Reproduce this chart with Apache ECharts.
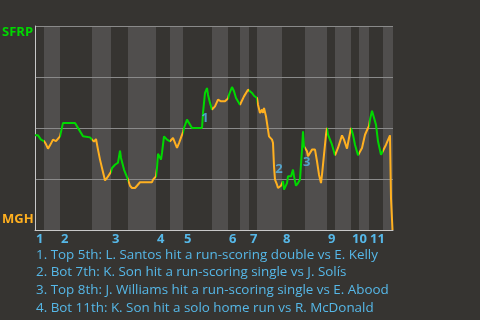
<!DOCTYPE html>
<html>
<head>
<meta charset="utf-8">
<style>
html,body{margin:0;padding:0;background:#363431;}
#chart{width:480px;height:320px;}
</style>
<script src="https://cdn.jsdelivr.net/npm/echarts@6/dist/echarts.min.js"></script>
</head>
<body>
<div id="chart"></div>
<script>
// Half-inning start positions (pitch index), top/bottom alternating
const halfInningStarts = [0, 9, 25, 57, 76, 93, 121, 135, 148, 177, 193, 205, 214, 222, 247, 270, 292, 300, 316, 324, 334, 348];
const lastPitch = 358;
const inningLabels = ['1','2','3','4','5','6','7','8','9','10','11'];

// Win probability (SFRP) by pitch
const wpPitch = [
  0,3,4,6,9,
  11,13,15,18,21,25,
  28,40,42,44,46,48,55,57,
  59,61,63,65,67,69,70,72,76,
  77,80,83,85,86,89,93,
  95,97,100,102,105,117,118,121,
  122,123,126,127,129,132,135,
  137,138,142,144,148,
  149,152,154,157,167,168,170,172,173,175,177,
  180,183,186,190,193,
  194,197,199,201,205,
  206,209,213,214,
  217,219,222,
  223,225,227,228,229,231,233,234,237,238,239,240,242,243,246,247,
  248,249,251,252,253,256,258,259,261,263,265,267,268,269,270,
  272,273,277,280,282,284,286,287,289,291,292,
  293,297,300,
  303,307,309,312,314,316,
  318,320,323,324,
  327,330,333,334,
  335,337,339,341,343,346,348,
  351,355,356,357,357.5
];
const wpValue = [
  0.464,0.464,0.456,0.443,0.436,
  0.42,0.399,0.415,0.443,0.436,0.459,
  0.525,0.525,0.508,0.492,0.487,0.459,0.454,0.443,
  0.433,0.446,0.394,0.345,0.304,0.263,0.243,0.255,0.285,
  0.304,0.32,0.33,0.389,0.353,0.296,0.247,
  0.217,0.206,0.206,0.217,0.234,0.234,0.247,0.263,
  0.304,0.374,0.345,0.378,0.459,0.443,0.435,
  0.43,0.451,0.402,0.426,0.48,
  0.5,0.541,0.538,0.5,0.5,0.574,0.672,0.696,0.663,0.623,0.59,
  0.606,0.639,0.631,0.631,0.645,
  0.663,0.701,0.68,0.647,0.614,
  0.623,0.655,0.688,0.696,
  0.672,0.658,0.647,
  0.614,0.574,0.59,0.574,0.598,0.557,0.492,0.459,0.443,0.426,0.312,0.247,0.222,0.206,0.217,0.225,
  0.24,0.198,0.198,0.23,0.263,0.263,0.296,0.263,0.217,0.23,0.247,0.394,0.484,0.41,0.418,
  0.386,0.361,0.394,0.394,0.337,0.271,0.23,0.271,0.369,0.467,0.5,
  0.467,0.418,0.366,
  0.402,0.464,0.443,0.399,0.451,0.5,
  0.467,0.418,0.366,0.37,
  0.402,0.467,0.5,0.51,
  0.541,0.585,0.585,0.516,0.435,0.369,0.361,
  0.418,0.464,0.155,0.155,0
];

// Event markers
const eventLabel = ['1','2','3','4'];
const eventPitch = [170, 244, 271.7, 361.7];
const eventValue = [0.549, 0.297, 0.33, 0.2];
const eventNotes = [
  '1. Top 5th: L. Santos hit a run-scoring double vs E. Kelly',
  '2. Bot 7th: K. Son hit a run-scoring single vs J. Solís',
  '3. Top 8th: J. Williams hit a run-scoring single vs E. Abood',
  '4. Bot 11th: K. Son hit a solo home run vs R. McDonald'
];
const awayTeam = 'SFRP';
const homeTeam = 'MGH';

const GREEN = '#00d800';
const ORANGE = '#ffb020';
const BLUE = '#56b8e8';
const FONT = 'Open Sans';

const bounds = halfInningStarts.concat([lastPitch]);
const pieces = [];
const bands = [];
for (let i = 0; i < halfInningStarts.length; i++) {
  pieces.push({gte: bounds[i], lt: i === halfInningStarts.length - 1 ? lastPitch + 10 : bounds[i+1], color: i % 2 === 0 ? GREEN : ORANGE});
  if (i % 2 === 1) bands.push([{xAxis: bounds[i]}, {xAxis: bounds[i+1]}]);
}
const inningStarts = halfInningStarts.filter((_, i) => i % 2 === 0);

const lineData = wpPitch.map((p, i) => [p, wpValue[i]]);
const eventData = eventLabel.map((l, i) => ({name: l, value: [eventPitch[i], eventValue[i]]}));

const chart = echarts.init(document.getElementById('chart'));
chart.setOption({
  backgroundColor: '#363431',
  animation: false,
  grid: {left: 35, right: 87, top: 26, bottom: 90},
  xAxis: {
    type: 'value', min: 0, max: lastPitch, z: 2,
    axisLine: {show: true, lineStyle: {color: '#c8c8c8', width: 1}},
    axisTick: {show: false},
    splitLine: {show: false},
    axisLabel: {
      customValues: inningStarts,
      formatter: v => inningLabels[inningStarts.indexOf(v)],
      color: BLUE, fontFamily: FONT, fontWeight: 'bold', fontSize: 13,
      align: 'left', margin: 3, padding: [0,0,0,1]
    }
  },
  yAxis: {
    type: 'value', min: 0, max: 1, interval: 0.25, z: 2,
    axisLine: {show: true, lineStyle: {color: '#c8c8c8', width: 1}},
    axisTick: {show: false},
    axisLabel: {show: false},
    splitLine: {show: true, lineStyle: {color: '#8a8a8a', width: 1}}
  },
  visualMap: {
    show: false, type: 'piecewise', dimension: 0, seriesIndex: 1,
    pieces: pieces
  },
  series: [
    {
      type: 'line', data: [], z: 0, silent: true,
      markArea: {silent: true, z: 0, itemStyle: {color: '#504e4d'}, data: bands}
    },
    {
      type: 'line', data: lineData, showSymbol: false, symbol: 'none',
      lineStyle: {width: 2}, z: 3
    },
    {
      type: 'scatter', data: eventData, symbolSize: 0, z: 4,
      label: {show: true, position: 'inside', formatter: p => p.name,
        color: BLUE, fontFamily: FONT, fontWeight: 'bold', fontSize: 13}
    }
  ],
  graphic: [
    {type: 'text', left: 2, top: 26, style: {text: awayTeam, fill: GREEN, font: 'bold 13px "' + FONT + '"'}},
    {type: 'text', left: 2, top: 213, style: {text: homeTeam, fill: ORANGE, font: 'bold 13px "' + FONT + '"'}},
    {type: 'text', left: 36, top: 246, style: {text: eventNotes.join('\n'), fill: BLUE, font: '13.4px "' + FONT + '"', lineHeight: 17.7}}
  ]
});
</script>
</body>
</html>
